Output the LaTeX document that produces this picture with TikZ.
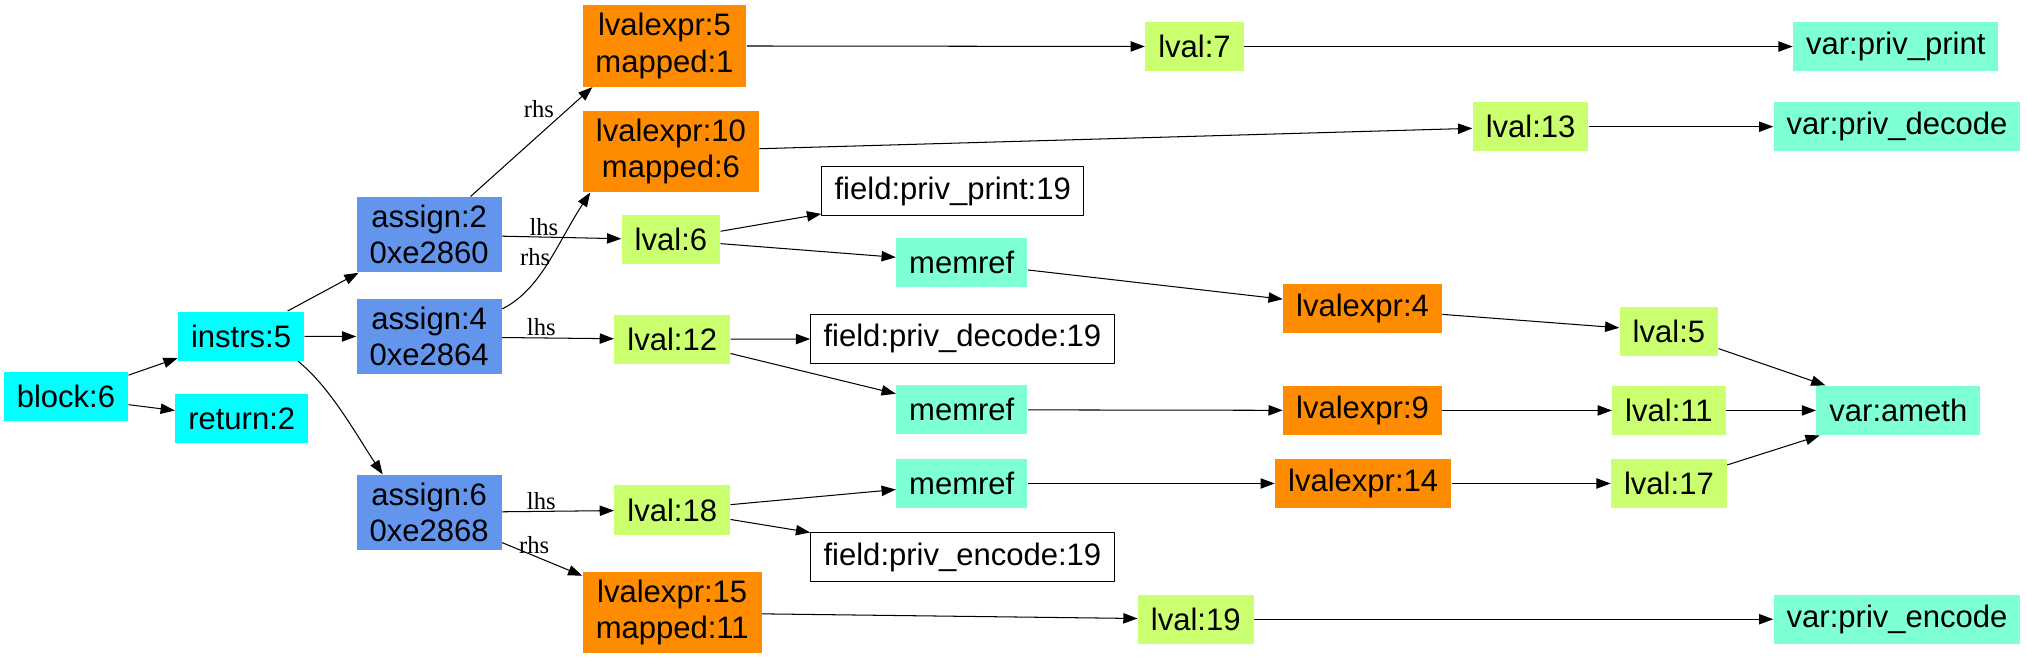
\documentclass[tikz,border=0pt]{standalone}
\usepackage{fontspec}
\setmainfont{Liberation Sans}
\newfontfamily\lblfont{Liberation Serif}
\usetikzlibrary{arrows.meta}
\definecolor{cyanbox}{HTML}{00FFFF}
\definecolor{lvgreen}{HTML}{CAFF70}
\definecolor{aqmarine}{HTML}{7FFFD4}
\definecolor{cornblue}{HTML}{6495ED}
\definecolor{dkorange}{HTML}{FF8C00}
\begin{document}
\begin{tikzpicture}[x=1pt, y=-1pt, line join=round, line width=0.8pt,
		font=\fontsize{24}{28}\selectfont, >={Triangle[length=11pt,width=8pt]},
		box/.style={inner xsep=10pt, inner ysep=6.3pt, minimum height=38pt, align=center},
		ctl/.style={box, fill=cyanbox},
		asgn/.style={box, fill=cornblue},
		lexpr/.style={box, fill=dkorange},
		lv/.style={box, fill=lvgreen},
		aq/.style={box, fill=aqmarine},
		fld/.style={box, fill=white, draw=black},
		lbl/.style={font=\lblfont\fontsize{19}{19}\selectfont, inner sep=1pt}]
			\useasboundingbox (0,0) rectangle (1568,510);
			\foreach \x/\y/\n/\s/\t in {51/307/b6/ctl/{block:6},186.5/260/i5/ctl/{instrs:5},187/324/r2/ctl/{return:2},
				332/181.5/a2/asgn/{assign:2\\0xe2860},332/260.5/a4/asgn/{assign:4\\0xe2864},332/396.5/a6/asgn/{assign:6\\0xe2868},
				514/35.5/le5/lexpr/{lvalexpr:5\\mapped:1},519/117/le10/lexpr/{lvalexpr:10\\mapped:6},
				519/185.5/l6/lv/{lval:6},520/262.5/l12/lv/{lval:12},520/394.5/l18/lv/{lval:18},
				520/474/le15/lexpr/{lvalexpr:15\\mapped:11},
				737/148/fpp/fld/{field:priv\_print:19},744/203/m1/aq/{memref},744.5/262/fpd/fld/{field:priv\_decode:19},
				744/317/m2/aq/{memref},744/374/m3/aq/{memref},744.5/431/fpe/fld/{field:priv\_encode:19},
				924/36/l7/lv/{lval:7},1184/98/l13/lv/{lval:13},925/479/l19/lv/{lval:19},
				1054/238.5/le4/lexpr/{lvalexpr:4},1054/317.5/le9/lexpr/{lvalexpr:9},1054.5/374/le14/lexpr/{lvalexpr:14},
				1291/256.5/l5/lv/{lval:5},1291/317.5/l11/lv/{lval:11},1291/374/l17/lv/{lval:17},
				1466.5/36/vpp/aq/{var:priv\_print},1467.5/98/vpd/aq/{var:priv\_decode},
				1468.5/317.5/vam/aq/{var:ameth},1467.5/479/vpe/aq/{var:priv\_encode}}
			\node[\s] (\n) at (\x,\y) {\t};
			\foreach \a/\b in {b6/i5,b6/r2,i5/a2,i5/a4,le5/l7,l7/vpp,le10/l13,l13/vpd,l6/fpp,l6/m1,m1/le4,le4/l5,l5/vam,
				l12/fpd,l12/m2,m2/le9,le9/l11,l11/vam,l18/m3,l18/fpe,m3/le14,le14/l17,l17/vam,le15/l19,l19/vpe}
			\draw[->] (\a)--(\b);
			\draw[->] ([xshift=44pt]i5.south) .. controls +(25,20) and +(-20,-30) .. ([xshift=-36pt]a6.north);
			\draw[->] ([xshift=32pt]a2.north) -- node[lbl,pos=0.7,above left]{rhs} ([xshift=8pt]le5.south west);
			\draw[->] (a2) -- node[lbl,pos=0.35,above]{lhs} (l6);
			\draw[->] ([yshift=-8pt]a4.north east) .. controls +(30,-15) and +(-26,40) .. node[lbl,pos=0.55,left]{rhs} ([xshift=6pt]le10.south west);
			\draw[->] (a4) -- node[lbl,pos=0.35,above]{lhs} (l12);
			\draw[->] (a6) -- node[lbl,pos=0.35,above]{lhs} (l18);
			\draw[->] (a6) -- node[lbl,pos=0.4,above]{rhs} (le15);
		\end{tikzpicture}
\end{document}
